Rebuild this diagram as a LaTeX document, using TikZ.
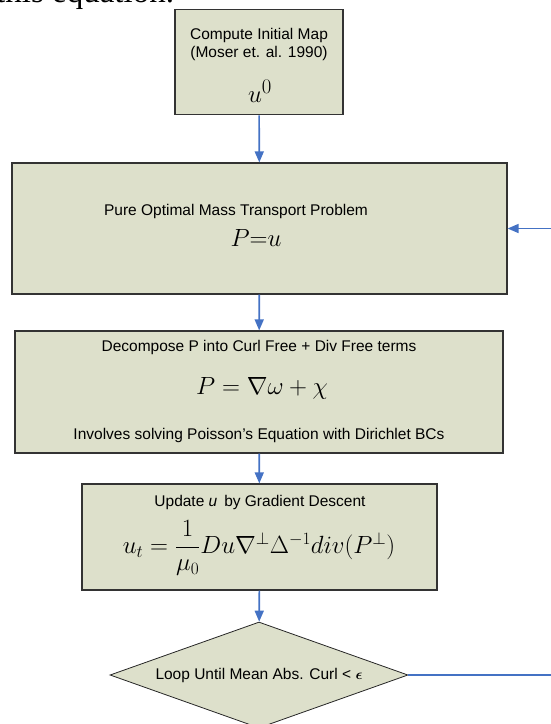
\documentclass[tikz,border=0pt]{standalone}
\usepackage{amsmath, amssymb}
\usepackage{fontspec}
\setmainfont{Liberation Serif}
\setsansfont{Liberation Sans}
\usepackage{xcolor}
\usetikzlibrary{arrows.meta, shapes.geometric}

\begin{document}
\begin{tikzpicture}[x=1pt, y=-1pt, >={Triangle[length=11pt, width=9pt]}]
\definecolor{boxfill}{RGB}{221, 224, 203}
\definecolor{flowblue}{RGB}{68, 114, 196}
\tikzset{
    stepbox/.style={draw=black!80, line width=1.2pt, fill=boxfill, inner sep=0pt},
    decision/.style={diamond, aspect=2.8, draw=black!85, line width=0.8pt, fill=boxfill, inner sep=0pt,
        minimum width=298pt, minimum height=106pt, font=\sffamily\fontsize{15.5}{18}\selectfont},
    lbl/.style={font=\sffamily\fontsize{15.5}{18}\selectfont, inner sep=0pt},
    flow/.style={->, flowblue, line width=1.6pt}
}
\useasboundingbox (0,0) rectangle (550,724);
% cut-off line of the page above
\node[anchor=base west, inner sep=0pt, font=\fontsize{33}{38}\selectfont] (prev) at (-4,2) {this equation.};
% Boxes
\node[stepbox, minimum width=168pt, minimum height=105.5pt] (init) at (259,62) {};
\node[stepbox, minimum width=495pt, minimum height=131pt] (ompt) at (259.5,228.5) {};
\node[stepbox, minimum width=488pt, minimum height=122pt] (decomp) at (259,392) {};
\node[stepbox, minimum width=355pt, minimum height=106pt] (update) at (259.5,537) {};
\node[decision] (loop) at (259,675) {Loop Until Mean Abs. Curl < {\boldmath$\epsilon$}};
% Texts in the boxes
\node[lbl] (initA) at (259,35) {Compute Initial Map};
\node[lbl] (initB) at (259,53) {(Moser et. al. 1990)};
\node[inner sep=0pt, font=\fontsize{32}{36}\selectfont] (initC) at (260,91) {$u^{0}$};
\node[lbl] (omptA) at (236,211) {Pure Optimal Mass Transport Problem};
\node[inner sep=0pt, font=\fontsize{24}{28}\selectfont] (omptB) at (256,238) {$P{=}u$};
\node[lbl] (decompA) at (259,347) {Decompose P into Curl Free + Div Free terms};
\node[inner sep=0pt, font=\fontsize{25}{30}\selectfont] (decompB) at (262,388) {$P = \nabla\omega + \chi$};
\node[lbl] (decompC) at (259,435) {Involves solving Poisson’s Equation with Dirichlet BCs};
\node[lbl] (updateA) at (260,502) {Update \textit{u}\, by Gradient Descent};
\node[inner sep=0pt, font=\fontsize{23.5}{28}\selectfont] (updateB) at (259,548)
    {$u_t = \dfrac{1}{\mu_0} Du\nabla^{\perp}\Delta^{-1}div(P^{\perp})$};
% Connectors
\draw[flow] (init) -- (ompt);
\draw[flow] (ompt) -- (decomp);
\draw[flow] (decomp) -- (update);
\draw[flow] (update) -- (loop);
\draw[flow] (loop.east) -- ++(150,0) |- (ompt.east);
\end{tikzpicture}
\end{document}
